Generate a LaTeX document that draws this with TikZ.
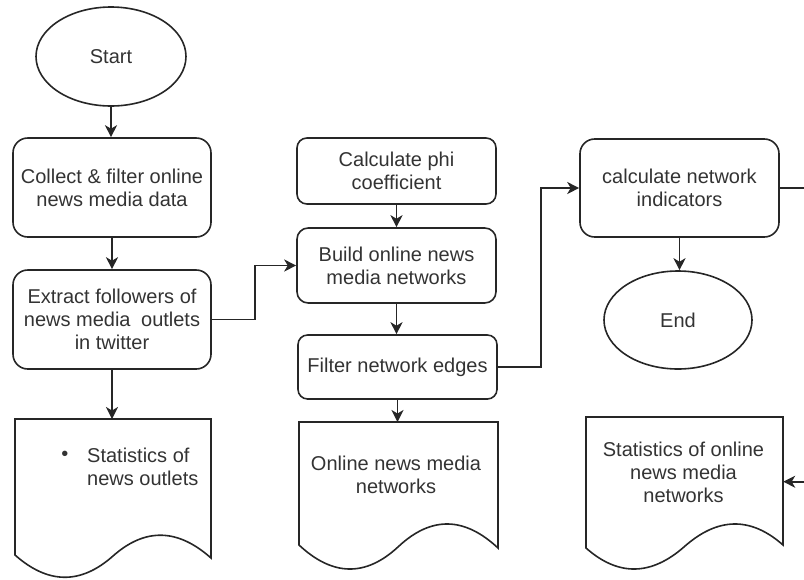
\documentclass[tikz,border=0pt]{standalone}
\usepackage{fontspec}
\setmainfont{Liberation Sans}
\usetikzlibrary{arrows.meta,shapes.geometric}
\begin{document}
\begin{tikzpicture}[x=1pt,y=-1pt,
  ln/.style={line width=1.6pt, draw=black!85},
  arr/.style={ln, -{Stealth[length=12pt,width=12pt,inset=3.5pt]}},
  txt/.style={text=black!80, font=\fontsize{20}{23}\selectfont},
  proc/.style={ln, txt, rectangle, align=center, inner sep=0pt},
  oval/.style={ln, txt, ellipse, inner sep=0pt},
  docn/.style={rectangle, inner sep=0pt, draw=none},
  lbl/.style={txt, align=center, inner sep=0pt}
]
\useasboundingbox (0,0) rectangle (804,579);
\clip (0,0) rectangle (804,579);

% column 1
\node[oval, minimum width=150, minimum height=99] (start) at (111,56.5) {Start};
\node[proc, rounded corners=14.8pt, minimum width=198, minimum height=99] (collect) at (112,187.5) {Collect \& filter online\\news media data};
\node[proc, rounded corners=14.8pt, minimum width=198, minimum height=99] (extract) at (112,319.5) {Extract followers of\\news media\hspace{0.25em} outlets\\in twitter};
\node[docn, anchor=north, minimum width=196, minimum height=137] (doc1) at (113,419) {};
\draw[ln] (15,555) -- (15,419) -- (211,419) -- (211,558)
  .. controls (178.3,529) and (145.7,527) .. (113,556)
  .. controls (80.3,585) and (47.7,584) .. (15,555) -- cycle;
\node[lbl] (doc1dot) at (65,456) {•};
\node[lbl, anchor=west, align=left] (doc1txt) at (87,467) {Statistics of\\news outlets};

% column 2
\node[proc, rounded corners=9.9pt, minimum width=199, minimum height=66] (phi) at (396.5,171) {Calculate phi\\coefficient};
\node[proc, rounded corners=11.2pt, minimum width=199, minimum height=75] (build) at (396.5,265.5) {Build online news\\media networks};
\node[proc, rounded corners=9.6pt, minimum width=199, minimum height=64] (filter) at (397.5,367) {Filter network edges};
\node[docn, anchor=north, minimum width=199, minimum height=124] (doc2) at (398.5,422) {};
\draw[ln] (299,545) -- (299,422) -- (498,422) -- (498,548)
  .. controls (464.8,517) and (431.7,515.5) .. (398.5,546.5)
  .. controls (365.3,577.5) and (332.2,576) .. (299,545) -- cycle;
\node[lbl] (doc2txt) at (396,475) {Online news media\\networks};

% column 3
\node[proc, rounded corners=14.7pt, minimum width=199, minimum height=98] (calcnet) at (679.5,188) {calculate network\\indicators};
\node[oval, minimum width=148, minimum height=98] (end) at (678,320) {End};
\node[docn, anchor=north, minimum width=197, minimum height=129] (doc3) at (684.5,417) {};
\draw[ln] (586,548) -- (586,417) -- (783,417) -- (783,545)
  .. controls (750.2,516) and (717.3,517.5) .. (684.5,546.5)
  .. controls (651.7,575.5) and (618.8,577) .. (586,548) -- cycle;
\node[lbl] (doc3txt) at (683.5,472) {Statistics of online\\news media\\networks};

% connectors
\draw[arr] (start.south) -- (start.south |- collect.north);
\draw[arr] (collect) -- (extract);
\draw[arr] (extract.south) -- (extract.south |- doc1.north);
\draw[arr] (extract.east) -- ++(43,0) |- (build.west);
\draw[arr] (phi) -- (build);
\draw[arr] (build.south) -- (build.south |- filter.north);
\draw[arr] (filter.south) -- (filter.south |- doc2.north);
\draw[arr] (filter.east) -- ++(43,0) |- (calcnet.west);
\draw[arr] (calcnet.south) -- (calcnet.south |- end.north);
\coordinate (offr) at (830,188);
\draw[arr] (calcnet.east) -- (offr) |- (doc3.east);
\end{tikzpicture}
\end{document}
